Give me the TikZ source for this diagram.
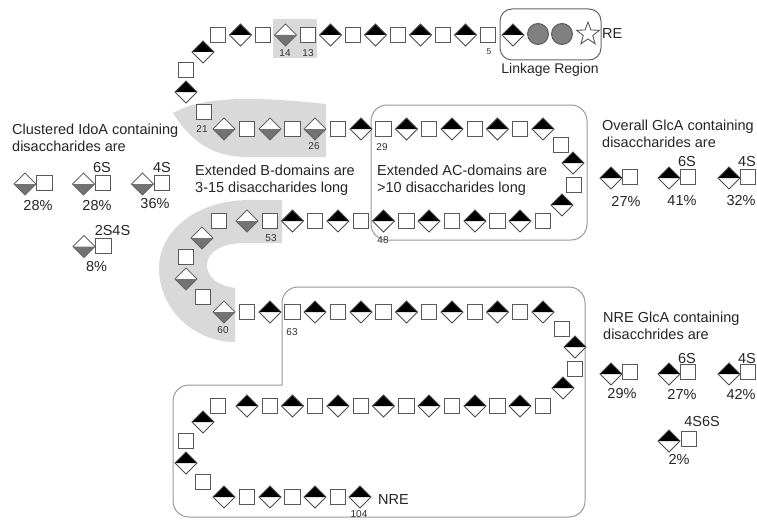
\documentclass[tikz,border=0pt]{standalone}
\usepackage{fontspec}
\setmainfont{Liberation Sans}
\usetikzlibrary{shapes.geometric,positioning}

\tikzset{
  galnac/.style={draw=black!65,fill=white,line width=0.9pt,minimum size=15.5pt,inner sep=0pt},
  glca/.style={diamond,draw=black!70,fill=white,line width=0.9pt,minimum size=22.5pt,inner sep=0pt,
    path picture={\fill[black] (path picture bounding box.west) -- (path picture bounding box.north) -- (path picture bounding box.east) -- cycle;}},
  idoa/.style={diamond,draw=black!60,fill=white,line width=0.9pt,minimum size=22.5pt,inner sep=0pt,
    path picture={\fill[black!55] (path picture bounding box.west) -- (path picture bounding box.south) -- (path picture bounding box.east) -- cycle;}},
  gal/.style={circle,draw=black!65,fill=black!50,line width=0.9pt,minimum size=21pt,inner sep=0pt},
  xyl/.style={star,star points=5,star point ratio=2.4,draw=black!65,fill=white,line width=0.9pt,minimum size=24pt,inner sep=0pt},
  txt/.style={font=\fontsize{14.5}{16.5}\selectfont,text=black!85,inner sep=0pt},
  num/.style={font=\fontsize{10}{11}\selectfont,text=black!80,inner sep=0pt},
  domainbox/.style={draw=black!40,line width=1pt,rounded corners=16pt},
  band/.style={draw=none,fill=black!15}
}

\begin{document}
\begin{tikzpicture}[x=1pt,y=-1pt]

        % Background
        \useasboundingbox[fill=white] (0,0) rectangle (757,519);

        % Gray bands (B-domains)
        \fill[band] (273,19) rectangle (317,58);
        \fill[band] (326,104) .. controls (260,97) and (205,95) .. (173,113)
            .. controls (190,140) and (210,156) .. (245,157) -- (326,157) -- cycle;
        \fill[band] (282,200) -- (250,200) .. controls (195,200) and (159,232) .. (159,268)
            .. controls (159,310) and (195,342) .. (235,342) -- (235,288)
            .. controls (218,286) and (207,277) .. (207,265)
            .. controls (207,252) and (222,243) .. (245,243) -- (282,243) -- cycle;

        % Domain outlines
        \draw[domainbox] (371,105) rectangle (587,240);
        \draw[domainbox] (282,385) -- (282,287) -- (585,287) -- (585,517) -- (173,517) -- (173,385) -- (282,385);
        \draw[black!60,line width=1pt,rounded corners=12pt] (500,9) rectangle (601,60);

        % Chain, numbered from the reducing end
        \foreach \n/\x/\y/\kind in {
            1/588/34/xyl, 2/562/34/gal, 3/538/34/gal, 4/513/35/glca,
            5/488/35/galnac, 6/465.5/35/glca, 7/443/35/galnac, 8/420.5/35/glca, 9/398/35/galnac,
            10/375.5/35/glca, 11/353/35/galnac, 12/330.5/35/glca, 13/308/35/galnac, 14/285.5/35/idoa,
            15/263/35/galnac, 16/240.5/35/glca, 17/218/35/galnac,
            18/203/52/glca, 19/186/70/galnac, 20/186/92/glca, 21/204/112/galnac,
            22/224/129/idoa, 23/247/129/galnac, 24/270/129/idoa, 25/292.5/129/galnac, 26/315/129/idoa,
            27/338/129/galnac, 28/361/129/glca, 29/383.5/129/galnac, 30/406.5/129/glca, 31/429/129/galnac,
            32/452/129/glca, 33/475/129/galnac, 34/497.5/129/glca, 35/520/129/galnac, 36/543/129/glca,
            37/561/145/galnac, 38/573/163/glca, 39/574/185/galnac, 40/562/205/glca,
            41/543/221/galnac, 42/520/221/glca, 43/497.5/221/galnac, 44/475/221/glca, 45/452/221/galnac,
            46/429/221/glca, 47/406.5/221/galnac, 48/383.5/221/glca, 49/361/221/galnac, 50/338/221/glca,
            51/315/221/galnac, 52/292.5/221/glca, 53/270/221/galnac, 54/247/221/idoa, 55/219/221/galnac,
            56/202/238/idoa, 57/186/257/galnac, 58/186/279/idoa, 59/203/297/galnac,
            60/224/312/idoa, 61/247/312/galnac, 62/270/312/glca, 63/292.5/312/galnac, 64/315/312/glca,
            65/338/312/galnac, 66/361/312/glca, 67/383.5/312/galnac, 68/406.5/312/glca, 69/429/312/galnac,
            70/452/312/glca, 71/475/312/galnac, 72/497.5/312/glca, 73/520/312/galnac, 74/543/312/glca,
            75/562/329/galnac, 76/575/347/glca, 77/575/369/galnac, 78/563/388/glca,
            79/543/406/galnac, 80/520/406/glca, 81/497.5/406/galnac, 82/475/406/glca, 83/452/406/galnac,
            84/429/406/glca, 85/406.5/406/galnac, 86/383.5/406/glca, 87/361/406/galnac, 88/338/406/glca,
            89/315/406/galnac, 90/292.5/406/glca, 91/270/406/galnac, 92/247/406/glca, 93/218/406/galnac,
            94/203/422/glca, 95/186/441/galnac, 96/186/463/glca, 97/203/482/galnac,
            98/224/497/glca, 99/247/497/galnac, 100/270/497/glca, 101/292.5/497/galnac, 102/315/497/glca,
            103/338/497/galnac, 104/360/497/glca} {
            \node[\kind] (u\n) at (\x,\y) {};
        }

        % Chain: residue numbers
        \node[num] (n14) at (285,53) {14};
        \node[num] (n13) at (308,53) {13};
        \node[num,font=\fontsize{8.5}{9}\selectfont] (n5) at (489,52) {5};
        \node[num] (n21) at (202,129) {21};
        \node[num] (n26) at (314,146) {26};
        \node[num] (n29) at (382,147) {29};
        \node[num] (n48) at (383,240) {48};
        \node[num] (n53) at (271,238) {53};
        \node[num] (n60) at (223,330) {60};
        \node[num] (n63) at (292,332) {63};
        \node[num] (n104) at (359,514) {104};

        % Chain: ends and domains
        \node[txt,anchor=west] (re) at (602,34) {RE};
        \node[txt,font=\fontsize{14}{16}\selectfont] (linkage) at (550,70) {Linkage Region};
        \node[txt,anchor=west] (nre) at (378,500) {NRE};
        \node[txt,anchor=west,align=left] (bdom) at (195,180) {Extended B-domains are\\3-15 disaccharides long};
        \node[txt,anchor=west,align=left] (acdom) at (377,180) {Extended AC-domains are\\>10 disaccharides long};

        % Clustered IdoA
        \node[txt,anchor=west,align=left] (idoatitle) at (12,138) {Clustered IdoA containing\\disaccharides are};
        \node[idoa] (ci1) at (25,184) {};
        \node[galnac] (cs1) at (44.5,183) {};
        \node[txt] (cp1) at (38,206) {28\%};
        \node[idoa] (ci2) at (83.5,184) {};
        \node[galnac] (cs2) at (103,183) {};
        \node[txt] (cl2) at (102,168) {6S};
        \node[txt] (cp2) at (97,206) {28\%};
        \node[idoa] (ci3) at (142.5,184) {};
        \node[galnac] (cs3) at (162,183) {};
        \node[txt] (cl3) at (162,168) {4S};
        \node[txt] (cp3) at (155,204) {36\%};
        \node[idoa] (ci4) at (84,246.5) {};
        \node[galnac] (cs4) at (103.5,246) {};
        \node[txt] (cl4) at (112.5,231) {2S4S};
        \node[txt] (cp4) at (96.5,267) {8\%};

        % Overall GlcA
        \node[txt,anchor=west,align=left] (glcatitle) at (602,134) {Overall GlcA containing\\disaccharides are};
        \node[glca] (og1) at (611,178) {};
        \node[galnac] (os1) at (630,177) {};
        \node[txt] (op1) at (626,201) {27\%};
        \node[glca] (og2) at (669,178) {};
        \node[galnac] (os2) at (688,177) {};
        \node[txt] (ol2) at (687,162) {6S};
        \node[txt] (op2) at (682,201) {41\%};
        \node[glca] (og3) at (729,178) {};
        \node[galnac] (os3) at (748,177) {};
        \node[txt] (ol3) at (747,162) {4S};
        \node[txt] (op3) at (741,201) {32\%};

        % NRE GlcA
        \node[txt,anchor=west,align=left] (nretitle) at (603,326) {NRE GlcA containing\\disacchrides are};
        \node[glca] (ng1) at (611,374) {};
        \node[galnac] (ns1) at (630,372) {};
        \node[txt] (np1) at (622,394) {29\%};
        \node[glca] (ng2) at (669,374) {};
        \node[galnac] (ns2) at (688,372) {};
        \node[txt] (nl2) at (687,359) {6S};
        \node[txt] (np2) at (682,394) {27\%};
        \node[glca] (ng3) at (729,374) {};
        \node[galnac] (ns3) at (748,372) {};
        \node[txt] (nl3) at (747,359) {4S};
        \node[txt] (np3) at (741,394) {42\%};
        \node[glca] (ng4) at (669,441) {};
        \node[galnac] (ns4) at (689,439) {};
        \node[txt] (nl4) at (702,422) {4S6S};
        \node[txt] (np4) at (679,459) {2\%};

    \end{tikzpicture}
\end{document}
